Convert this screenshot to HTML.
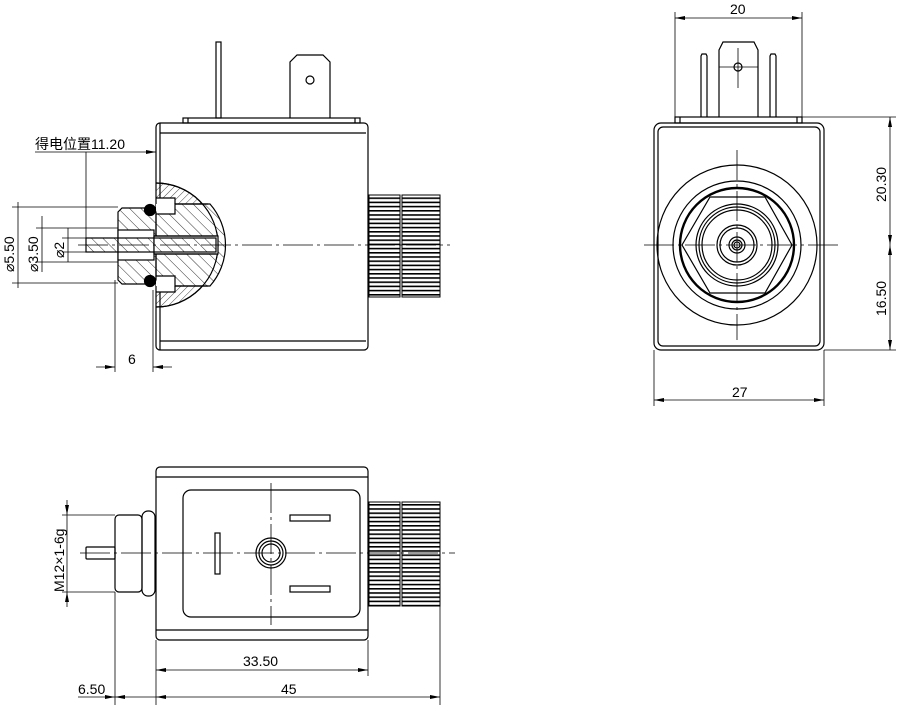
<!DOCTYPE html>
<html><head><meta charset="utf-8"><style>
html,body{margin:0;padding:0;background:#fff}
svg{display:block}
text{font-family:"Liberation Sans","Noto Sans CJK SC",sans-serif;font-size:14px;fill:#000}
</style></head><body>
<svg width="900" height="711" viewBox="0 0 900 711" xmlns="http://www.w3.org/2000/svg">
<defs>
<pattern id="h" width="8" height="8" patternUnits="userSpaceOnUse" patternTransform="rotate(-45)"><line x1="0" y1="0" x2="0" y2="8" stroke="#000" stroke-width="0.8"/></pattern>
<pattern id="h2" width="5" height="5" patternUnits="userSpaceOnUse" patternTransform="rotate(45)"><line x1="0" y1="0" x2="0" y2="5" stroke="#000" stroke-width="0.7"/></pattern>
<pattern id="kn" width="10" height="4.2" patternUnits="userSpaceOnUse"><rect width="10" height="1.6" fill="#000"/></pattern>
<marker id="a" viewBox="0 0 10 4" refX="10" refY="2" markerWidth="10" markerHeight="4" orient="auto-start-reverse" markerUnits="userSpaceOnUse"><path d="M0,0L10,2L0,4z" fill="#000"/></marker>
<clipPath id="hc"><rect x="156" y="150" width="80" height="200"/></clipPath>
</defs>
<g fill="none" stroke="#000" stroke-width="1.2">
<rect x="183" y="118" width="177" height="5"/>
<line x1="188" y1="118" x2="188" y2="123"/><line x1="355" y1="118" x2="355" y2="123"/>
<rect x="216" y="42" width="5" height="76"/>
<path d="M290,118V62L297,55H323L330,62V118"/>
<circle cx="310" cy="80" r="4"/>
<rect x="156" y="123" width="212" height="227" rx="4"/>
<line x1="160" y1="133" x2="366" y2="133"/><line x1="160" y1="341" x2="366" y2="341"/>
<line x1="160" y1="123" x2="160" y2="350"/>
<rect x="369" y="195" width="31" height="102" fill="url(#kn)" stroke-width="1"/>
<rect x="402" y="195" width="38" height="102" fill="url(#kn)" stroke-width="1"/>
<g clip-path="url(#hc)">
<circle cx="156" cy="245" r="62" fill="url(#h2)"/>
<path d="M156,198H175V214H156z" fill="#fff"/>
<path d="M156,276H175V292H156z" fill="#fff"/>
<path d="M156,204L217,204L217,286L156,286z" fill="#fff" stroke="none"/>
<path d="M175,204H210A62,62 0 0 1 210,286H175V276H156V214H175z" fill="url(#h)"/>
</g>
<path d="M156,183A62,62 0 0 1 156,307" />
<line x1="175" y1="204" x2="208" y2="204"/><line x1="175" y1="286" x2="208" y2="286"/>
<path d="M118,212L122,208H152L156,212V280L152,284H122L118,280Z" fill="url(#h)"/>
<rect x="118" y="230" width="36" height="30" fill="#fff"/>
<rect x="154" y="236" width="64" height="18" fill="#fff"/>
<rect x="86" y="238" width="130" height="14" fill="url(#h)"/>
<line x1="154" y1="236" x2="216" y2="236"/><line x1="154" y1="254" x2="216" y2="254"/>
<circle cx="150" cy="210" r="5.5" fill="#000"/><circle cx="150" cy="281" r="5.5" fill="#000"/>
<g stroke-width="0.8">
<line x1="78" y1="245" x2="450" y2="245" stroke-dasharray="30,4,3,4"/>
<line x1="12" y1="207" x2="118" y2="207"/><line x1="12" y1="283" x2="118" y2="283"/>
<line x1="18" y1="202" x2="18" y2="288"/>
<line x1="36" y1="228" x2="118" y2="228"/><line x1="36" y1="262" x2="118" y2="262"/>
<line x1="42" y1="216" x2="42" y2="272"/>
<line x1="62" y1="238" x2="86" y2="238"/><line x1="62" y1="252" x2="86" y2="252"/>
<line x1="68" y1="228" x2="68" y2="262"/>
<line x1="35" y1="152" x2="156" y2="152" marker-end="url(#a)"/>
<line x1="86" y1="152" x2="86" y2="238"/>
<line x1="115" y1="280" x2="115" y2="372"/><line x1="153" y1="290" x2="153" y2="372"/>
<line x1="96" y1="367" x2="115" y2="367" marker-end="url(#a)"/>
<line x1="172" y1="367" x2="153" y2="367" marker-end="url(#a)"/>
</g>
<rect x="675" y="117" width="127" height="6"/>
<line x1="680" y1="117" x2="680" y2="123"/><line x1="797" y1="117" x2="797" y2="123"/>
<path d="M701,117V56L702,54H706L707,56V117"/><path d="M770,117V56L771,54H775L776,56V117"/>
<path d="M719,117V50L723,42H754L758,50V117"/>
<circle cx="738" cy="67" r="4"/>
<rect x="654" y="123" width="170" height="227" rx="7"/>
<rect x="658" y="127" width="162" height="219" rx="5"/>
<circle cx="737" cy="245" r="80"/>
<circle cx="737" cy="245" r="64"/>
<circle cx="737" cy="245" r="57" stroke-width="2.4"/>
<polygon points="682,245 710,197 765,197 792,245 765,293 710,293"/>
<circle cx="737" cy="245" r="41"/><circle cx="737" cy="245" r="38"/><circle cx="737" cy="245" r="35"/>
<circle cx="737" cy="245" r="20"/><circle cx="737" cy="245" r="17"/>
<circle cx="737" cy="245" r="8"/><circle cx="737" cy="245" r="5"/><circle cx="737" cy="245" r="3"/>
<g stroke-width="0.8">
<line x1="644" y1="245" x2="840" y2="245" stroke-dasharray="30,4,3,4"/>
<line x1="737" y1="150" x2="737" y2="340" stroke-dasharray="30,4,3,4"/>
<line x1="738" y1="48" x2="738" y2="88"/><line x1="719" y1="67" x2="758" y2="67"/>
<line x1="675" y1="12" x2="675" y2="117"/><line x1="802" y1="12" x2="802" y2="117"/>
<line x1="675" y1="18" x2="802" y2="18" marker-start="url(#a)" marker-end="url(#a)"/>
<line x1="802" y1="117" x2="896" y2="117"/><line x1="824" y1="350" x2="896" y2="350"/>
<line x1="890" y1="117" x2="890" y2="245" marker-start="url(#a)" marker-end="url(#a)"/>
<line x1="890" y1="245" x2="890" y2="350" marker-start="url(#a)" marker-end="url(#a)"/>
<line x1="654" y1="350" x2="654" y2="406"/><line x1="824" y1="350" x2="824" y2="406"/>
<line x1="654" y1="400" x2="824" y2="400" marker-start="url(#a)" marker-end="url(#a)"/>
</g>
<rect x="156" y="467" width="212" height="173" rx="4"/>
<line x1="156" y1="477" x2="368" y2="477"/><line x1="156" y1="630" x2="368" y2="630"/>
<rect x="183" y="490" width="177" height="127" rx="8"/>
<rect x="215" y="533" width="5" height="41"/>
<rect x="290" y="515" width="40" height="6"/><rect x="290" y="586" width="40" height="6"/>
<circle cx="271" cy="553" r="15"/><circle cx="271" cy="553" r="12"/><circle cx="271" cy="553" r="9"/>
<rect x="369" y="502" width="31" height="104" fill="url(#kn)" stroke-width="1"/>
<rect x="402" y="502" width="38" height="104" fill="url(#kn)" stroke-width="1"/>
<rect x="115" y="515" width="27" height="77" rx="4"/>
<rect x="142" y="511" width="13" height="85" rx="6"/>
<rect x="86" y="547" width="29" height="12" rx="1"/>
<g stroke-width="0.8">
<line x1="80" y1="553" x2="455" y2="553" stroke-dasharray="30,4,3,4"/>
<line x1="271" y1="483" x2="271" y2="625" stroke-dasharray="30,4,3,4"/>
<line x1="62" y1="515" x2="115" y2="515"/><line x1="62" y1="592" x2="115" y2="592"/>
<line x1="67" y1="500" x2="67" y2="515" marker-end="url(#a)"/>
<line x1="67" y1="607" x2="67" y2="592" marker-end="url(#a)"/>
<line x1="67" y1="515" x2="67" y2="592"/>
<line x1="156" y1="640" x2="156" y2="705"/><line x1="368" y1="640" x2="368" y2="676"/>
<line x1="440" y1="606" x2="440" y2="705"/><line x1="115" y1="592" x2="115" y2="705"/>
<line x1="156" y1="670" x2="368" y2="670" marker-start="url(#a)" marker-end="url(#a)"/>
<line x1="156" y1="697" x2="440" y2="697" marker-start="url(#a)" marker-end="url(#a)"/>
<line x1="78" y1="697" x2="115" y2="697" marker-end="url(#a)"/>
<line x1="115" y1="697" x2="156" y2="697" marker-start="url(#a)"/>
</g>
</g>
<text x="35" y="149">得电位置11.20</text>
<text x="128" y="364">6</text>
<text transform="translate(14,272) rotate(-90)">⌀5.50</text>
<text transform="translate(38,272) rotate(-90)">⌀3.50</text>
<text transform="translate(64,258) rotate(-90)">⌀2</text>
<text x="730" y="14">20</text>
<text transform="translate(886,202) rotate(-90)">20.30</text>
<text transform="translate(886,316) rotate(-90)">16.50</text>
<text x="732" y="397">27</text>
<text transform="translate(64,592) rotate(-90)">M12×1-6g</text>
<text x="243" y="666">33.50</text>
<text x="281" y="694">45</text>
<text x="78" y="694">6.50</text>
</svg>
</body></html>
